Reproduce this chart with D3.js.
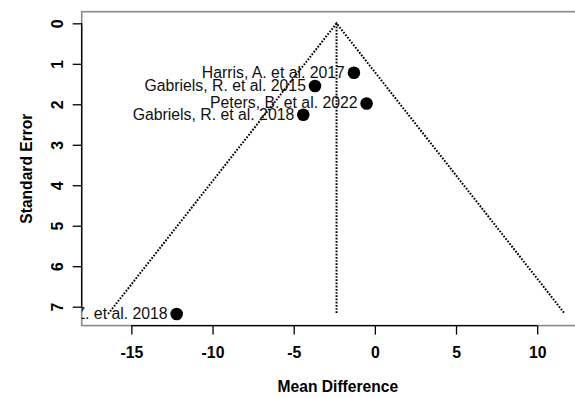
<!DOCTYPE html>
<html>
<head>
<meta charset="utf-8">
<script src="https://cdn.jsdelivr.net/npm/d3@7"></script>
<style>
  html, body { margin: 0; padding: 0; background: #fff; }
  svg { display: block; font-family: "Liberation Sans", Arial, Helvetica, sans-serif; }
</style>
</head>
<body>
<svg id="chart" width="575" height="398"></svg>
<script>
// Study labels, effect sizes (mean difference) and standard errors
const studies = [
  "Harris, A. et al. 2017",
  "Gabriels, R. et al. 2015",
  "Peters, B. et al. 2022",
  "Gabriels, R. et al. 2018",
  "Zhang, Z. et al. 2018"
];
const meanDiff = [-1.29, -3.69, -0.51, -4.41, -12.21];
const stdErr = [1.22, 1.55, 1.98, 2.26, 7.18];

// Pooled estimate (reference line) and axis ticks
const pooled = -2.36;
const xTicks = [-15, -10, -5, 0, 5, 10];
const yTicks = [0, 1, 2, 3, 4, 5, 6, 7];
const xTitle = "Mean Difference";
const yTitle = "Standard Error";

const svg = d3.select("#chart");
const plot = { left: 81.7, right: 594, top: 11.7, bottom: 325.6 };

const seMax = d3.max(stdErr);
const x = d3.scaleLinear().domain([-18.06, 13.5]).range([plot.left, plot.right]);
const y = d3.scaleLinear().domain([-0.04 * seMax, seMax * 1.04]).range([plot.top, plot.bottom]);

// clip region = plot box
svg.append("defs").append("clipPath").attr("id", "plotClip")
  .append("rect")
  .attr("x", plot.left).attr("y", plot.top)
  .attr("width", plot.right - plot.left).attr("height", plot.bottom - plot.top);

// grey frame around the plotting region
svg.append("rect")
  .attr("x", plot.left).attr("y", plot.top)
  .attr("width", plot.right - plot.left).attr("height", plot.bottom - plot.top)
  .attr("fill", "none").attr("stroke", "#8a8a8a").attr("stroke-width", 1.6);

const g = svg.append("g").attr("clip-path", "url(#plotClip)");

// funnel: pseudo 95% limits around the pooled estimate
const funnel = [
  [pooled - 1.96 * seMax, seMax],
  [pooled, 0],
  [pooled + 1.96 * seMax, seMax]
];
const dotted = { stroke: "#000", width: 2, dash: "1.7 1.5" };
g.append("path")
  .attr("d", d3.line().x(d => x(d[0])).y(d => y(d[1]))(funnel))
  .attr("fill", "none")
  .attr("stroke", dotted.stroke).attr("stroke-width", dotted.width)
  .attr("stroke-dasharray", dotted.dash);
g.append("line")
  .attr("x1", x(pooled)).attr("x2", x(pooled))
  .attr("y1", y(0)).attr("y2", y(seMax))
  .attr("stroke", dotted.stroke).attr("stroke-width", dotted.width)
  .attr("stroke-dasharray", dotted.dash);

// study points
g.selectAll("circle.study")
  .data(studies.map((s, i) => ({ s, md: meanDiff[i], se: stdErr[i] })))
  .join("circle")
  .attr("class", "study")
  .attr("cx", d => x(d.md)).attr("cy", d => y(d.se))
  .attr("r", 6.3).attr("fill", "#000");

// study labels, placed to the left of each point
g.selectAll("text.lab")
  .data(studies.map((s, i) => ({ s, md: meanDiff[i], se: stdErr[i] })))
  .join("text")
  .attr("class", "lab")
  .attr("x", d => x(d.md) - 9)
  .attr("y", d => y(d.se) + 5)
  .attr("text-anchor", "end")
  .attr("font-size", "15.8px")
  .attr("fill", "#111")
  .text(d => d.s);

// x axis
const xAxis = svg.append("g").attr("transform", `translate(0,${plot.bottom})`)
  .call(d3.axisBottom(x).tickValues(xTicks).tickSize(9).tickPadding(0).tickFormat(d3.format("d")));
xAxis.select(".domain").remove();
xAxis.append("line")
  .attr("x1", x(xTicks[0])).attr("x2", x(xTicks[xTicks.length - 1]))
  .attr("stroke", "#000").attr("stroke-width", 1.3);
xAxis.selectAll(".tick line").attr("stroke", "#000").attr("stroke-width", 1.3);
xAxis.selectAll(".tick text")
  .attr("dy", null).attr("y", 32.5)
  .attr("font-size", "15.8px").attr("font-weight", "bold").attr("fill", "#000")
  .text(d => d < 0 ? "-" + Math.abs(d) : String(d));

// y axis with labels parallel to the axis
const yAxis = svg.append("g").attr("transform", `translate(${plot.left},0)`)
  .call(d3.axisLeft(y).tickValues(yTicks).tickSize(9).tickFormat(d3.format("d")));
yAxis.select(".domain").remove();
yAxis.append("line")
  .attr("y1", y(yTicks[0])).attr("y2", y(yTicks[yTicks.length - 1]))
  .attr("stroke", "#000").attr("stroke-width", 1.3);
yAxis.selectAll(".tick line").attr("stroke", "#000").attr("stroke-width", 1.3);
yAxis.selectAll(".tick text")
  .attr("x", null).attr("dy", null)
  .attr("transform", "translate(-18.5,0) rotate(-90)")
  .attr("text-anchor", "middle")
  .attr("font-size", "15.8px").attr("font-weight", "bold").attr("fill", "#000");

// axis titles
svg.append("text")
  .attr("x", (plot.left + plot.right) / 2).attr("y", 391.5)
  .attr("text-anchor", "middle")
  .attr("font-size", "15.6px").attr("font-weight", "bold")
  .text(xTitle);
svg.append("text")
  .attr("transform", `translate(31.5,${(plot.top + plot.bottom) / 2}) rotate(-90)`)
  .attr("text-anchor", "middle")
  .attr("font-size", "15.6px").attr("font-weight", "bold")
  .text(yTitle);
</script>
</body>
</html>
